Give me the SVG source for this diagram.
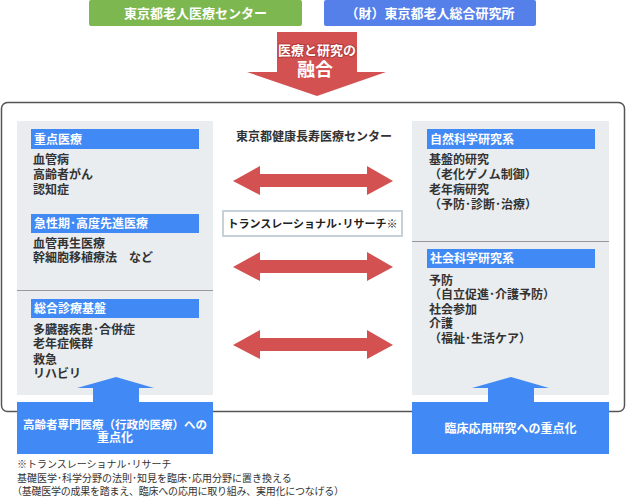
<svg xmlns="http://www.w3.org/2000/svg" width="627" height="498" viewBox="0 0 627 498">
<style>
text{font-family:"Noto Sans CJK JP","Noto Sans",sans-serif;font-weight:700}
.w{fill:#fff}
.hd{fill:#fff;font-size:12px}
.it{fill:#333;font-size:12px}
.fn{fill:#333;font-size:10px;font-weight:400}
.bar{fill:#4189f5}
.panel{fill:#e9edf0}
.red{fill:#d35151}
.blue{fill:#4189f5}
</style>
<rect x="0" y="0" width="627" height="498" fill="#fff"/>
<g id="top-green">
<rect x="89" y="0" width="213" height="26" rx="2" fill="#7db74f"/>
<text x="195.5" y="17.5" class="w" font-size="13" text-anchor="middle">東京都老人医療センター</text>
</g>
<g id="top-blue">
<rect x="324" y="0" width="212" height="26" rx="2" fill="#5580ea"/>
<text x="430" y="17.5" class="w" font-size="13" text-anchor="middle">（財）東京都老人総合研究所</text>
</g>
<g id="fusion-arrow">
<polygon class="red" points="277,32 357,32 357,72 386,72 317,96 247,72 277,72"/>
<text x="317" y="55" class="w" font-size="13" text-anchor="middle" stroke="#b53c3c" stroke-width="2" paint-order="stroke">医療と研究の</text>
<text x="315" y="76" class="w" font-size="18" text-anchor="middle">融合</text>
</g>
<g id="outer">
<rect x="1.5" y="102.5" width="623" height="309" rx="6" fill="#fff" stroke="#555" stroke-width="1.5"/>
</g>
<g id="left-panel">
<rect class="panel" x="17" y="121" width="196" height="274"/>
<line x1="17" y1="290.5" x2="213" y2="290.5" stroke="#999" stroke-width="1"/>
<rect class="bar" x="31" y="129" width="168" height="20"/>
<text x="34" y="143.5" class="hd">重点医療</text>
<text x="33" y="164" class="it">血管病</text>
<text x="33" y="179" class="it">高齢者がん</text>
<text x="33" y="194" class="it">認知症</text>
<rect class="bar" x="31" y="214" width="168" height="19"/>
<text x="34" y="228" class="hd">急性期･高度先進医療</text>
<text x="33" y="248" class="it">血管再生医療</text>
<text x="33" y="262" class="it">幹細胞移植療法　など</text>
<rect class="bar" x="31" y="299" width="168" height="19"/>
<text x="34" y="313" class="hd">総合診療基盤</text>
<text x="33" y="334" class="it">多臓器疾患･合併症</text>
<text x="33" y="348" class="it">老年症候群</text>
<text x="33" y="364" class="it">救急</text>
<text x="33" y="378" class="it">リハビリ</text>
</g>
<g id="right-panel">
<rect class="panel" x="412" y="121" width="197" height="274"/>
<line x1="412" y1="241.5" x2="609" y2="241.5" stroke="#999" stroke-width="1"/>
<rect class="bar" x="427" y="129" width="168" height="20"/>
<text x="430" y="143.5" class="hd">自然科学研究系</text>
<text x="429" y="164" class="it">基盤的研究</text>
<text x="429" y="179" class="it">（老化ゲノム制御）</text>
<text x="429" y="194" class="it">老年病研究</text>
<text x="429" y="209" class="it">（予防･診断･治療）</text>
<rect class="bar" x="427" y="249" width="168" height="19"/>
<text x="430" y="263" class="hd">社会科学研究系</text>
<text x="429" y="285" class="it">予防</text>
<text x="429" y="299" class="it">（自立促進･介護予防）</text>
<text x="429" y="314" class="it">社会参加</text>
<text x="429" y="328" class="it">介護</text>
<text x="429" y="343" class="it">（福祉･生活ケア）</text>
</g>
<g id="center">
<text x="314" y="140.5" class="it" font-size="12.5" text-anchor="middle">東京都健康長寿医療センター</text>
<rect x="223" y="211" width="179" height="25" fill="#fff" stroke="#c5d2da" stroke-width="2"/>
<text x="312.5" y="227.5" fill="#222" font-size="11" text-anchor="middle">トランスレーショナル･リサーチ※</text>
</g>
<g id="connectors">
<polygon class="red" points="233,181 260,166 260,174 367,174 367,166 393,181 367,195 367,187 260,187 260,195"/>
<polygon class="red" points="233,267 260,252 260,260 367,260 367,252 393,267 367,281 367,273 260,273 260,281"/>
<polygon class="red" points="233,345 260,330 260,338 367,338 367,330 393,345 367,359 367,351 260,351 260,359"/>
<polygon class="blue" points="116,377 154,388 139,388 139,403 93,403 93,388 77,388"/>
<polygon class="blue" points="511,377 549,388 534,388 534,403 488,403 488,388 472,388"/>
</g>
<g id="bottom-left">
<rect class="blue" x="17" y="402" width="196" height="52"/>
<text x="115" y="428.5" class="w" font-size="11.5" text-anchor="middle">高齢者専門医療（行政的医療）への</text>
<text x="115" y="442" class="w" font-size="12" text-anchor="middle">重点化</text>
</g>
<g id="bottom-right">
<rect class="blue" x="412" y="402" width="197" height="52"/>
<text x="510.5" y="432.5" class="w" font-size="12" text-anchor="middle">臨床応用研究への重点化</text>
</g>
<g id="footnote">
<text x="17" y="467.5" class="fn">※トランスレーショナル･リサーチ</text>
<text x="17" y="482" class="fn">基礎医学･科学分野の法則･知見を臨床･応用分野に置き換える</text>
<text x="12" y="495" class="fn" textLength="332" lengthAdjust="spacing">（基礎医学の成果を踏まえ、臨床への応用に取り組み、実用化につなげる）</text>
</g>
</svg>
